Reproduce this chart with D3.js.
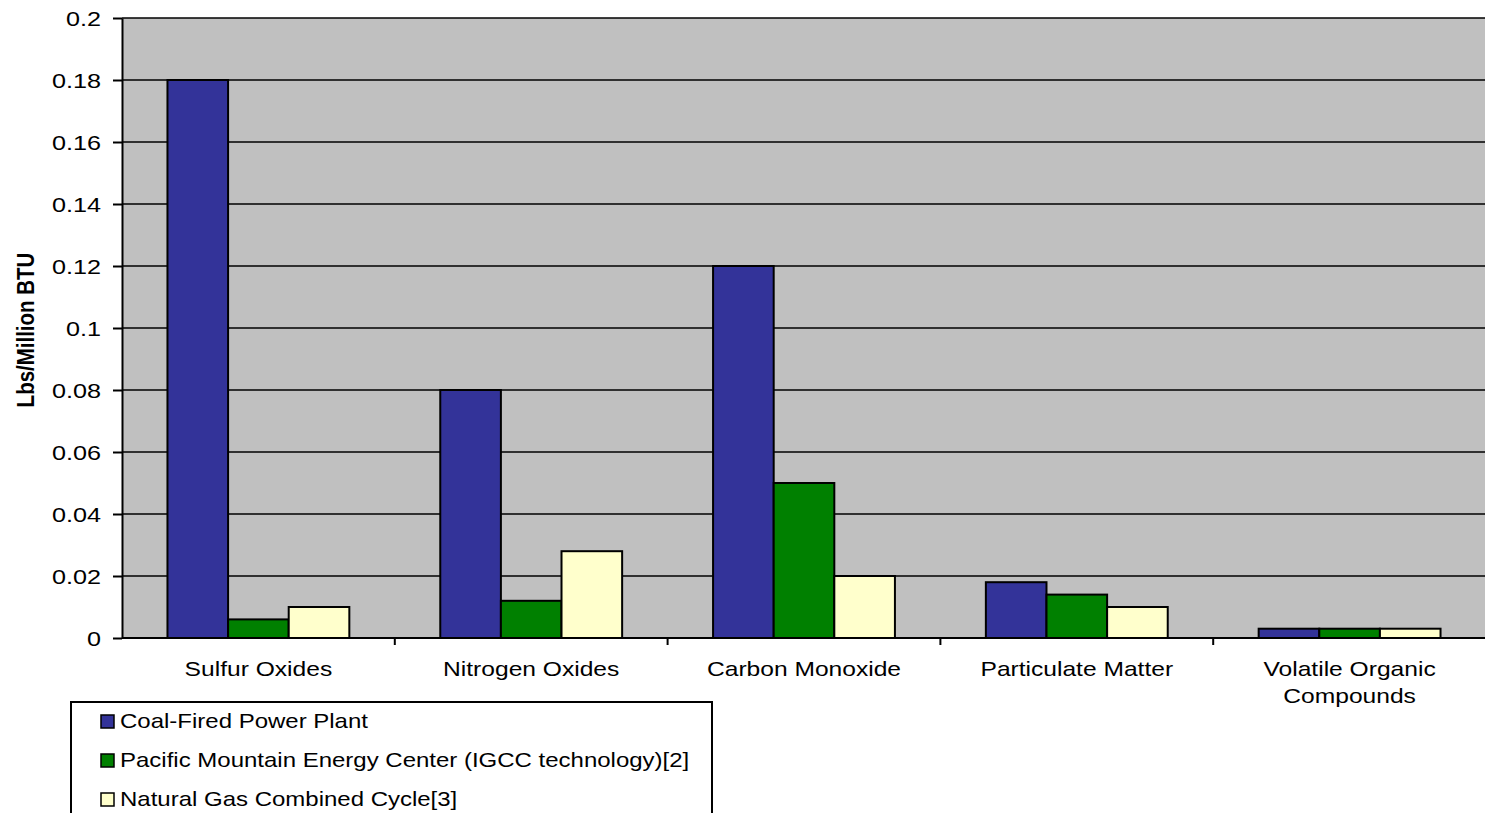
<!DOCTYPE html>
<html>
<head>
<meta charset="utf-8">
<script src="https://cdn.jsdelivr.net/npm/d3@7"></script>
<style>
html,body{margin:0;padding:0;background:#fff;}
svg{display:block;font-family:"Liberation Sans",Arial,sans-serif;}
</style>
</head>
<body>
<svg id="chart" width="1485" height="813"></svg>
<script>
const categories = [["Sulfur Oxides"],["Nitrogen Oxides"],["Carbon Monoxide"],["Particulate Matter"],["Volatile Organic","Compounds"]];
const seriesNames = ["Coal-Fired Power Plant","Pacific Mountain Energy Center (IGCC technology)[2]","Natural Gas Combined Cycle[3]"];
const coal = [0.18, 0.08, 0.12, 0.018, 0.003];
const igcc = [0.006, 0.012, 0.05, 0.014, 0.003];
const ngcc = [0.01, 0.028, 0.02, 0.01, 0.003];
const yTicks = [0,0.02,0.04,0.06,0.08,0.1,0.12,0.14,0.16,0.18,0.2];
const colors = ["#333399","#008000","#FFFFCC"];

const SX = 1.2; // horizontal text stretch seen in the reference
const svg = d3.select("#chart");
const L = 122, R = 1486, T = 18, B = 638;
const series = [coal, igcc, ngcc];
const idx = categories.map((d,i)=>i);

const x = d3.scaleBand().domain(idx).range([L,R]).paddingInner(0).paddingOuter(0);
const y = d3.scaleLinear().domain([0,0.2]).range([B,T]);
const bw = x.bandwidth()/4.5;

svg.append("rect").attr("x",L).attr("y",T).attr("width",R-L).attr("height",B-T).attr("fill","#C0C0C0");

// gridlines
svg.append("g").selectAll("line").data(yTicks.filter(v=>v>0)).join("line")
  .attr("x1",L).attr("x2",R).attr("y1",d=>y(d)).attr("y2",d=>y(d))
  .attr("stroke","#000").attr("stroke-width",1.6);

// bars
series.forEach((s,si)=>{
  svg.append("g").selectAll("rect").data(s).join("rect")
    .attr("x",(d,i)=>x(i)+0.75*bw+si*bw)
    .attr("y",d=>y(d))
    .attr("width",bw)
    .attr("height",d=>B-y(d))
    .attr("fill",colors[si]).attr("stroke","#000").attr("stroke-width",2);
});

// y axis
const yAxis = d3.axisLeft(y).tickValues(yTicks).tickSize(9).tickSizeOuter(0).tickFormat("");
const gy = svg.append("g").attr("transform",`translate(${L},0)`).call(yAxis);
gy.select(".domain").attr("stroke","#000").attr("stroke-width",2);
gy.selectAll(".tick line").attr("stroke","#000").attr("stroke-width",2);
svg.append("g").selectAll("text").data(yTicks).join("text")
  .attr("transform",d=>`translate(101,${y(d)}) scale(${SX},1)`)
  .attr("text-anchor","end").attr("dy","0.36em").attr("font-size",21).attr("fill","#000")
  .text(d=>String(+d.toFixed(2)));

// x axis
const gx = svg.append("g").attr("transform",`translate(0,${B})`);
gx.append("line").attr("x1",L).attr("x2",R).attr("stroke","#000").attr("stroke-width",2);
gx.selectAll("line.t").data(idx.slice(1)).join("line").attr("class","t")
  .attr("x1",d=>x(d)).attr("x2",d=>x(d)).attr("y1",0).attr("y2",7).attr("stroke","#000").attr("stroke-width",2);
const lab = gx.selectAll("text").data(categories).join("text")
  .attr("transform",(d,i)=>`translate(${x(i)+x.bandwidth()/2},38) scale(${SX},1)`)
  .attr("text-anchor","middle").attr("font-size",20.5).attr("fill","#000");
lab.each(function(d){
  const t=d3.select(this);
  d.forEach((line,j)=>t.append("tspan").attr("x",0).attr("dy",j===0?0:27).text(line));
});

// y title
svg.append("text").attr("transform",`translate(34,330) scale(${SX},1) rotate(-90)`)
  .attr("text-anchor","middle").attr("font-size",20.5).attr("font-weight","bold").text("Lbs/Million BTU");

// legend
const lg = svg.append("g");
lg.append("rect").attr("x",71).attr("y",702).attr("width",641).attr("height",130)
  .attr("fill","#fff").attr("stroke","#000").attr("stroke-width",2);
seriesNames.forEach((n,i)=>{
  const yy = 721 + i*39;
  lg.append("rect").attr("x",101).attr("y",yy-6).attr("width",13).attr("height",13)
    .attr("fill",colors[i]).attr("stroke","#000").attr("stroke-width",1.5);
  lg.append("text").attr("transform",`translate(120,${yy}) scale(${SX},1)`)
    .attr("dy","0.36em").attr("font-size",20).text(n);
});
</script>
</body>
</html>
